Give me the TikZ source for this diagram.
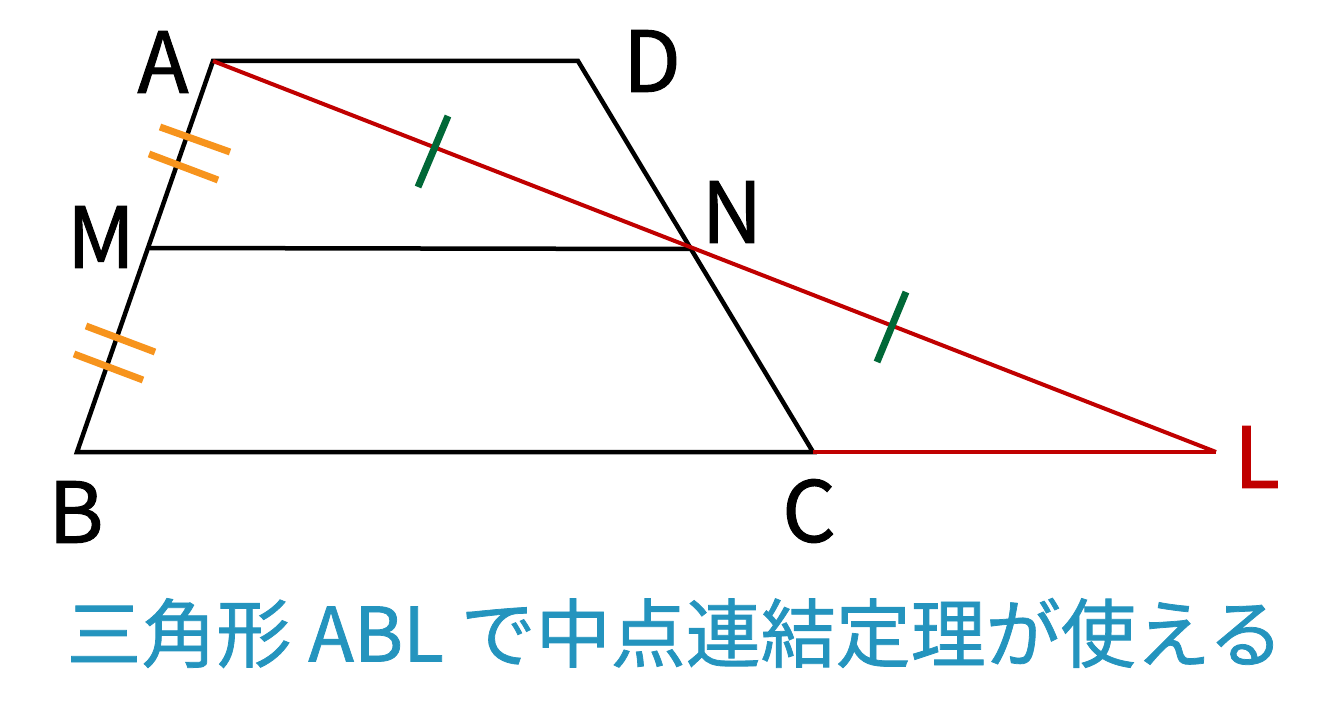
\documentclass[tikz,border=0pt]{standalone}
\usepackage{fontspec}
\newfontfamily\cjk[FakeBold=1.2]{Noto Sans CJK JP}
\newfontfamily\cjkcap[FakeBold=1.0]{Noto Sans CJK JP}
\definecolor{linered}{RGB}{192,0,0}
\definecolor{tickorange}{RGB}{247,148,29}
\definecolor{tickgreen}{RGB}{0,104,55}
\definecolor{captionblue}{RGB}{36,148,190}
\tikzset{
  edge/.style={line width=4.5pt, black, line cap=round, line join=miter},
  redline/.style={line width=4pt, linered},
  orangetick/.style={line width=7pt, tickorange},
  greentick/.style={line width=7pt, tickgreen},
  vlabel/.style={font=\cjk\fontsize{84}{84}\selectfont, inner sep=0pt, anchor=center},
  caption/.style={font=\cjkcap\fontsize{75}{75}\selectfont, text=captionblue, inner sep=0pt}
}
\begin{document}
\begin{tikzpicture}[x=1pt,y=-1pt]
\useasboundingbox (0,0) rectangle (1333,708);
% vertices
\coordinate (A) at (213,61);
\coordinate (D) at (578,61);
\coordinate (M) at (149,248);
\coordinate (N) at (690,249);
\coordinate (B) at (77,452);
\coordinate (C) at (813,452);
\coordinate (L) at (1216,452);
% trapezoid
\draw[edge] (B) -- (A) -- (D) -- (C) -- cycle;
\draw[edge, line cap=butt] (M) -- (N);
% red lines
\draw[redline] (A) -- (L);
\draw[redline] (C) -- (L);
% orange ticks
\draw[orangetick] (160,127) -- (230,152);
\draw[orangetick] (149,154) -- (218,180);
\draw[orangetick] (86,326) -- (155,352);
\draw[orangetick] (74,354) -- (143,380);
% green ticks
\draw[greentick] (448,116) -- (418,187);
\draw[greentick] (906,292) -- (877,362);
% labels
\node[vlabel] (lA) at (163,62) {A};
\node[vlabel] (lD) at (652,61) {D};
\node[vlabel] (lM) at (101,237) {M};
\node[vlabel] (lN) at (732,212) {N};
\node[vlabel] (lB) at (76,512) {B};
\node[vlabel] (lC) at (809,511) {C};
\node[vlabel, text=linered] (lL) at (1257,457) {L};
\node[caption] (cap) at (675,633) {三角形 ABL で中点連結定理が使える};
\end{tikzpicture}
\end{document}
